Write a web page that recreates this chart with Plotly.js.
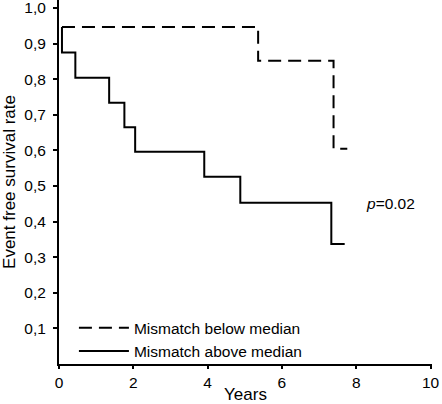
<!DOCTYPE html>
<html>
<head>
<meta charset="utf-8">
<script src="https://cdn.plot.ly/plotly-3.0.1.min.js"></script>
<style>html,body{margin:0;padding:0;background:#fff;}#chart{width:442px;height:404px;}</style>
</head>
<body>
<div id="chart"></div>
<script>
// Kaplan-Meier step data (years, event free survival rate)
var belowYears = [0.08, 5.36, 7.39, 7.76];
var belowRate  = [0.947, 0.852, 0.605, 0.605];
var aboveYears = [0.08, 0.08, 0.44, 1.35, 1.76, 2.05, 3.91, 4.88, 7.33, 7.69];
var aboveRate  = [0.947, 0.875, 0.804, 0.734, 0.665, 0.596, 0.526, 0.453, 0.337, 0.337];
var yTickVals  = [0.1, 0.2, 0.3, 0.4, 0.5, 0.6, 0.7, 0.8, 0.9, 1.0];
var yTickText  = ["0,1", "0,2", "0,3", "0,4", "0,5", "0,6", "0,7", "0,8", "0,9", "1,0"];
var xTickVals  = [0, 2, 4, 6, 8, 10];
var seriesNames = ["Mismatch below median", "Mismatch above median"];

var FONT = "Liberation Sans, Arial, Helvetica, sans-serif";

var traces = [
  {
    x: belowYears, y: belowRate, name: seriesNames[0], type: "scatter", mode: "lines",
    line: {shape: "hv", color: "#000", width: 2, dash: "13px,7px"}
  },
  {
    x: aboveYears, y: aboveRate, name: seriesNames[1], type: "scatter", mode: "lines",
    line: {shape: "hv", color: "#000", width: 2}
  }
];

var layout = {
  width: 442, height: 404,
  margin: {l: 59, r: 10, t: 0, b: 40},
  paper_bgcolor: "#fff", plot_bgcolor: "#fff",
  font: {family: FONT, size: 15.5, color: "#000"},
  showlegend: true,
  legend: {
    x: 0.04, y: 0.145, xanchor: "left", yanchor: "top",
    bgcolor: "rgba(0,0,0,0)", borderwidth: 0, itemwidth: 50,
    font: {family: FONT, size: 15.5, color: "#000"},
    tracegroupgap: 0
  },
  xaxis: {
    range: [0, 10.04], tickvals: xTickVals, ticks: "outside", ticklen: 3, tickwidth: 2,
    tickcolor: "#000", showline: true, linecolor: "#000", linewidth: 2,
    showgrid: false, zeroline: false, fixedrange: true,
    tickfont: {family: FONT, size: 15.5, color: "#000"},
    title: {text: "Years", font: {family: FONT, size: 17, color: "#000"}, standoff: 0}
  },
  yaxis: {
    range: [0, 1.0225], tickvals: yTickVals, ticktext: yTickText, ticks: "outside", ticklen: 4, tickwidth: 2,
    tickcolor: "#000", showline: true, linecolor: "#000", linewidth: 2,
    showgrid: false, zeroline: false, fixedrange: true, ticklabelstandoff: 4,
    ticklabeloverflow: "allow",
    tickfont: {family: FONT, size: 15.5, color: "#000"},
    title: {text: "Event free survival rate", font: {family: FONT, size: 17, color: "#000"}, standoff: 8}
  },
  annotations: [
    {
      x: 8.22, y: 0.452, xref: "x", yref: "y", xanchor: "left", yanchor: "middle",
      text: "<i>p</i>=0.02", showarrow: false,
      font: {family: FONT, size: 15.5, color: "#000"}
    }
  ]
};

Plotly.newPlot("chart", traces, layout, {staticPlot: true, displayModeBar: false});
</script>
</body>
</html>
